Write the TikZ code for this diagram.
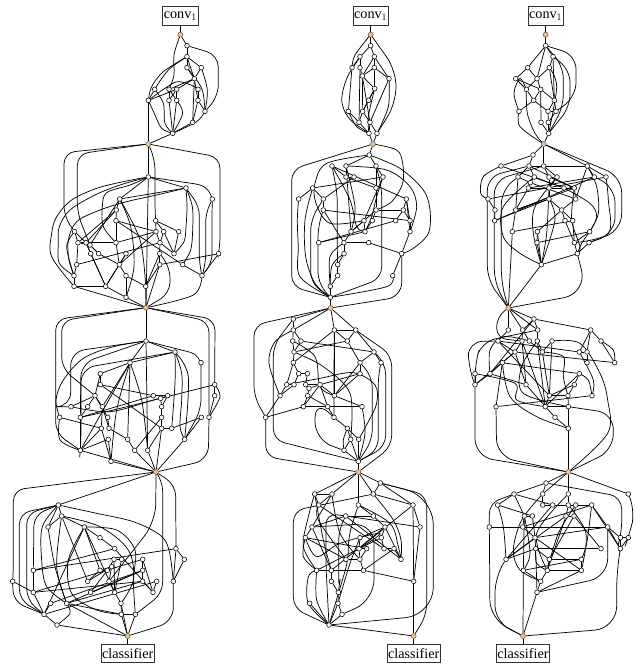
\documentclass[tikz,border=0pt]{standalone}
\usepackage{fontspec}
\setmainfont{Liberation Serif}
\definecolor{hubc}{HTML}{F2C27E}
\pgfdeclarelayer{wires}
\pgfsetlayers{wires,main}
\tikzset{
 wnode/.style={circle,draw=black,fill=white,line width=.55pt,inner sep=0pt,minimum size=4.7pt},
 hubnode/.style={circle,draw=black!70,fill=hubc,line width=.45pt,inner sep=0pt,minimum size=5pt},
 tbox/.style={draw=black!80,line width=.7pt,inner sep=1pt,minimum height=18.5pt,font=\fontsize{14.2}{15}\selectfont},
 wire/.style={line width=.72pt,black}
}
\newcommand\wn[1]{\foreach \n/\x/\y in {#1}{\node[wnode] (\n) at (\x,\y) {};}}
\newcommand\se[1]{\begin{pgfonlayer}{wires}\foreach \a/\b in {#1}{\draw[wire] (\a) -- (\b);}\end{pgfonlayer}}
\newcommand\cv[1]{\begin{pgfonlayer}{wires}\draw[wire] plot[smooth,tension=.55] coordinates {#1};\end{pgfonlayer}}
\newcommand\rv[2][11pt]{\begin{pgfonlayer}{wires}\draw[wire,rounded corners=#1] #2;\end{pgfonlayer}}
\begin{document}
\begin{tikzpicture}[x=.33333pt,y=-.33333pt]
\useasboundingbox (0,0) rectangle (1905,1992);
% ===== column 1
\begin{scope}
\node[tbox] (C1) at (541,48) {conv$_1$};
\node[hubnode] (H1) at (541,104) {};
\node[hubnode] (H2) at (445,432) {};
\node[hubnode] (H3) at (438,923) {};
\se{C1/H1}
\wn{a1/561/137,a2/561/170,a3/561/203,a4/604/203,a5/583/236,a6/464/268,a7/507/268,a8/530/268,a9/594/268,a10/445/301,a11/507/301,a12/530/301,a13/594/301,a14/615/334,a15/578/367,a16/518/400}
\se{H1/a1,a1/a2,a2/a3,a2/a4,a3/a5,a4/a5,a2/a5,a5/a7,a5/a8,a5/a13,a7/a11,a8/a12,a7/a12,a8/a11,a9/a13,a13/a14,a13/a15,a5/a15,a15/a16,a11/a16,a12/a16,a10/a8,a6/a10,a10/H2,a16/H2}
\cv{(H1) (522,165) (522,225) (a7)}
\rv[12pt]{(a1) -- (655,165) -- (655,290) -- (a14)}
\cv{(a2) (490,215) (455,260) (a10)}
\cv{(a2) (505,210) (a6)}
\cv{(a4) (622,270) (a14)}
\cv{(a3) (605,265) (a14)}
\cv{(a10) (465,345) (485,385) (a16)}
\cv{(a6) (490,310) (495,370) (a16)}
\cv{(a14) (590,365) (a16)}
\cv{(a12) (548,340) (a16)}
\cv{(a10) (495,265) (535,245) (590,265) (a13)}
\wn{b1/445/531,b2/558/564,b3/637/597,b4/359/597,b5/349/630,b6/348/662,b7/467/662,b8/224/695,b9/468/695,b10/491/695,b11/536/695,b12/234/728,b13/258/728,b14/270/735,b15/348/728,b16/480/728,b17/272/761,b18/296/761,b19/378/761,b20/522/761,b21/479/761,b22/656/761,b23/230/794,b24/358/794,b25/479/794,b26/548/794,b27/222/827,b28/378/827,b29/606/827,b30/222/859,b31/317/859,b32/437/859,b33/378/892}
\se{H2/b1,b1/H3,b1/b2,b1/b4,b2/b4,b4/b5,b5/b13,b4/b14,b5/b12,b6/b9,b6/b15,b7/b9,b7/b11,b7/b10,b8/b12,b8/b13,b12/b14,b13/b17,b12/b15,b15/b9,b15/b24,b14/b18,b18/b24,b24/b28,b28/b33,b24/b31,b17/b31,b13/b31,b23/b16,b25/b22,b30/b31,b30/H3,b27/b30,b23/b27,b31/b33,b31/b19,b32/H3,b33/H3,b25/H3,b32/b25,b32/b21,b21/b16,b16/b10,b16/b9,b25/b21,b20/b11,b20/b16,b10/b20,b28/b32,b26/b29,b6/b26,b29/b22,b19/b24,b12/b23,b24/b9,b5/b6}
\rv{(H2) -- (192,458) -- (192,650) -- (b8)}
\rv{(H2) -- (232,462) -- (232,640) -- (b14)}
\rv{(H2) -- (660,472) -- (660,740) -- (b22)}
\rv{(H2) -- (465,478) -- (465,640) -- (b7)}
\cv{(b1) (370,545) (290,565) (215,600) (170,650) (155,700) (155,770) (b30)}
\cv{(b1) (360,555) (285,585) (210,630) (178,680) (175,730) (178,790) (b27)}
\cv{(b2) (470,585) (380,605) (300,630) (230,665) (205,720) (207,780) (b27)}
\cv{(b2) (561,620) (558,680) (552,725) (b20)}
\cv{(b2) (577,620) (578,690) (572,750) (b26)}
\rv[9pt]{(b2) -- (598,620) -- (598,790) -- (b29)}
\cv{(b1) (540,545) (600,555) (625,572) (b3)}
\rv[9pt]{(b3) -- (617,640) -- (617,790) -- (b29)}
\rv[9pt]{(b3) -- (636,640) -- (636,790) -- (b29)}
\cv{(b1) (390,555) (320,578) (307,620) (310,680) (b15)}
\cv{(b4) (392,680) (402,800) (b33)}
\cv{(b4) (420,720) (b32)}
\rv{(b21) -- (510,800) -- (510,880) -- (H3)}
\cv{(b29) (580,885) (H3)}
\cv{(b8) (200,740) (b27)}
\end{scope}
\begin{scope}[shift={(0,900)}]
\node[hubnode] (H4) at (468,516) {};
\node[hubnode] (H5) at (383,1008) {};
\node[tbox] (C2) at (383,1060) {classifier};
\se{H5/C2}
\wn{c1/438/123,c2/525/156,c3/390/188,c4/603/188,c5/301/221,c6/301/254,c7/644/254,c8/285/287,c9/460/287,c10/503/287,c11/482/295,c12/644/287,c13/213/320,c14/263/320,c15/307/320,c16/485/320,c17/179/352,c18/241/352,c19/323/352,c20/485/352,c21/604/352,c22/627/352,c23/304/385,c24/327/385,c25/485/385,c26/515/385,c27/325/418,c28/383/418,c29/554/418,c30/241/451,c31/404/451,c32/443/451,c33/333/484}
\se{H3/c1,c1/c2,c1/c3,c2/c3,c3/c5,c5/c6,c5/c8,c6/c9,c6/c25,c8/c14,c8/c15,c8/c19,c13/c8,c14/c18,c15/c24,c15/c23,c17/c23,c18/c9,c18/c30,c19/c24,c23/c30,c23/c33,c24/c28,c27/c30,c27/c33,c28/c31,c31/H4,c32/H4,c33/H4,c30/H4,c3/c15,c3/c28,c1/c32,c9/c10,c16/c10,c16/c20,c20/c25,c25/H4,c25/c32,c26/c21,c29/H4,c29/c21,c16/c11,c20/c31,c7/c12,c12/c22,c7/c11,c11/c10,c3/c30,c25/c26}
\rv{(H3) -- (167,58) -- (167,400) -- (c30)}
\rv{(H3) -- (185,62) -- (185,205) -- (c8)}
\rv{(H3) -- (645,58) -- (c7)}
\rv{(H3) -- (627,64) -- (c22)}
\rv[14pt]{(c1) -- (212,155) -- (212,320) -- (c13)}
\cv{(c1) (340,140) (250,175) (190,240) (168,300) (c17)}
\rv[14pt]{(c1) -- (243,190) -- (c18)}
\rv[14pt]{(c2) -- (243,205) -- (243,430) -- (c30)}
\cv{(c2) (545,220) (545,300) (540,380) (c29)}
\cv{(c2) (525,250) (c26)}
\cv{(c2) (565,230) (c29)}
\rv{(c1) -- (603,165) -- (603,330) -- (c29)}
\cv{(c17) (180,420) (c30)}
\cv{(c3) (350,330) (c33)}
\cv{(c3) (425,300) (c32)}
\rv[14pt]{(c22) -- (625,480) -- (H4)}
\cv{(c7) (660,290) (c22)}
\cv{(c13) (330,335) (460,300) (c11)}
\cv{(c18) (340,330) (c11)}
\wn{d1/175/615,d2/185/648,d3/144/681,d4/253/681,d5/300/713,d6/344/746,d7/528/746,d8/342/778,d9/365/778,d10/428/778,d11/553/778,d12/100/811,d13/300/811,d14/322/811,d15/335/800,d16/428/811,d17/38/844,d18/263/844,d19/327/844,d20/428/844,d21/470/844,d22/520/844,d23/100/877,d24/272/877,d25/344/877,d26/459/877,d27/152/910,d28/200/910,d29/363/910,d30/132/943,d31/364/943,d32/406/943,d33/171/975}
\se{H4/d1,d1/d2,d1/d3,d2/d3,d2/d4,d2/d18,d4/d13,d4/d5,d4/d25,d5/d6,d7/d11,d7/d22,d11/d22,d12/d7,d12/d23,d17/d23,d23/d30,d23/d20,d23/d10,d27/d16,d27/d30,d28/d20,d28/d31,d28/H5,d30/d33,d33/H5,d31/H5,d32/H5,d29/H5,d24/d14,d24/d16,d25/d29,d26/d21,d26/d10,d16/d10,d16/d20,d20/d26,d8/d9,d8/d25,d9/d25,d13/d14,d18/d13,d19/d25,d14/d8,d30/d4,d6/d12,d15/d19,d15/d13,d29/d31,d31/d32,d28/d16,d30/d21,d18/d15,d6/d26}
\rv{(H4) -- (40,570) -- (40,820) -- (d17)}
\rv[18pt]{(H4) -- (467,665) -- (d19)}
\rv{(H4) -- (488,540) -- (488,880) -- (d32)}
\rv{(H4) -- (527,555) -- (d7)}
\cv{(d1) (290,640) (400,665) (480,705) (507,750) (d22)}
\rv{(d1) -- (58,640) -- (58,900) -- (d30)}
\rv{(d1) -- (80,640) -- (80,900) -- (d30)}
\rv{(d1) -- (102,645) -- (d12)}
\cv{(d1) (127,680) (125,780) (140,860) (d28)}
\cv{(d3) (165,800) (d28)}
\cv{(d2) (170,800) (d28)}
\cv{(d4) (350,690) (405,750) (400,840) (d32)}
\cv{(d4) (205,780) (215,880) (290,930) (d31)}
\cv{(d2) (300,680) (385,750) (400,840) (d29)}
\rv{(d17) -- (40,905) -- (d30)}
\rv[14pt]{(d22) -- (520,965) -- (H5)}
\cv{(d33) (210,940) (d28)}
\end{scope}
% ===== column 2
\begin{scope}[shift={(720,0)}]
\node[tbox] (C3) at (392,48) {conv$_1$};
\node[hubnode] (H6) at (392,104) {};
\node[hubnode] (H7) at (399,432) {};
\node[hubnode] (H8) at (272,924) {};
\se{C3/H6}
\wn{e1/392/137,e2/360/170,e3/403/170,e4/336/203,e5/360/203,e6/403/203,e7/367/228,e8/447/236,e9/404/266,e10/386/301,e11/325/334,e12/368/334,e13/357/367,e14/390/367,e15/387/400,e16/411/400}
\se{H6/e1,e1/e2,e1/e3,e2/e5,e2/e4,e3/e6,e3/e7,e5/e7,e4/e11,e6/e7,e6/e9,e7/e9,e7/e12,e7/e14,e8/e14,e9/e10,e10/e12,e12/e13,e12/e14,e13/e15,e14/e15,e14/e16,e11/e13,e15/H7,e16/H7,e3/e8,e9/e12,e6/e8,e5/e13}
\cv{(H6) (345,165) (e4)}
\rv[16pt]{(H6) -- (468,210) -- (468,310) -- (e16)}
\rv[16pt]{(e2) -- (305,255) -- (305,345) -- (e15)}
\cv{(e8) (445,320) (e16)}
\cv{(e11) (350,380) (e15)}
\cv{(e9) (385,350) (e15)}
\wn{f1/388/465,f2/276/498,f3/318/498,f4/408/498,f5/318/531,f6/342/531,f7/429/531,f8/218/564,f9/408/564,f10/176/597,f11/250/597,f12/499/597,f13/250/630,f14/408/630,f15/490/630,f16/372/662,f17/397/662,f18/467/662,f19/510/662,f20/333/695,f21/375/695,f22/510/695,f23/236/728,f24/312/728,f25/386/728,f26/312/761,f27/485/761,f28/293/794,f29/293/827,f30/458/827,f31/271/859,f32/271/892}
\se{H7/f1,f1/f3,f1/f4,f2/f5,f3/f5,f5/f6,f4/f7,f5/f9,f8/f7,f8/f10,f8/f11,f11/f13,f6/f11,f2/f12,f13/f19,f3/f20,f14/f16,f14/f17,f16/f20,f17/f21,f16/f21,f18/f23,f18/f15,f15/f12,f15/f19,f12/f19,f12/f22,f19/f22,f22/f27,f24/f25,f23/f21,f24/f20,f25/f27,f24/f26,f26/f28,f28/f29,f29/f31,f31/f32,f30/f27,f20/f16,f7/f16,f4/f14,f13/f24,f32/H8,f31/H8,f15/f14}
\rv{(H7) -- (155,508) -- (155,860) -- (f32)}
\cv{(H7) (470,450) (488,490) (488,550) (455,605) (f14)}
\cv{(f1) (480,505) (550,570) (570,630) (565,700) (520,745) (f27)}
\cv{(f1) (260,490) (225,550) (228,610) (270,670) (f16)}
\cv{(f3) (440,510) (510,560) (530,620) (f22)}
\rv{(f4) -- (425,560) -- (425,835) -- (f32)}
\cv{(f8) (195,660) (197,770) (225,850) (f32)}
\cv{(f10) (172,660) (175,740) (180,830) (f32)}
\rv{(f11) -- (212,660) -- (212,850) -- (f32)}
\rv{(f13) -- (234,680) -- (234,850) -- (f32)}
\rv{(f2) -- (292,580) -- (292,770) -- (f28)}
\cv{(f2) (330,600) (350,680) (f21)}
\cv{(f3) (345,620) (f20)}
\cv{(f7) (410,590) (395,650) (f21)}
\cv{(f24) (270,770) (f31)}
\cv{(f26) (275,800) (f32)}
\cv{(f30) (440,860) (f32)}
\rv[14pt]{(f27) -- (485,890) -- (H8)}
\end{scope}
\begin{scope}[shift={(720,900)}]
\node[hubnode] (H9) at (355,516) {};
\node[hubnode] (H10) at (521,1008) {};
\node[tbox] (C4) at (521,1060) {classifier};
\se{H10/C4}
\wn{g1/160/57,g2/160/90,g3/283/90,g4/347/90,g5/158/123,g6/183/123,g7/322/123,g8/162/156,g9/402/156,g10/160/188,g11/360/188,g12/423/188,g13/176/221,g14/202/221,g15/360/221,g16/140/254,g17/162/254,g18/197/254,g19/240/254,g20/207/265,g21/120/287,g22/203/287,g23/283/287,g24/190/320,g25/263/320,g26/366/320,g27/77/352,g28/282/352,g29/322/385,g30/332/418,g31/356/418,g32/312/451,g33/355/484}
\se{H8/g1,H8/g3,H8/g4,H8/g2,g1/g2,g2/g5,g2/g6,g5/g8,g6/g8,g8/g10,g10/g13,g10/g16,g13/g14,g13/g17,g14/g18,g16/g17,g16/g21,g17/g21,g18/g20,g19/g20,g20/g22,g22/g24,g24/g27,g21/g27,g24/g25,g22/g25,g19/g25,g3/g7,g3/g4,g4/g7,g7/g11,g4/g9,g9/g11,g9/g12,g11/g15,g15/g23,g11/g23,g6/g9,g8/g7,g3/g23,g25/g28,g28/g29,g29/g30,g30/g32,g31/g33,g32/g33,g30/g33,g33/H9,g29/g31,g19/g23,g10/g3,g23/g26,g25/g26,g19/g15,g24/g19,g18/g19}
\rv{(H8) -- (42,75) -- (42,290) -- (g27)}
\cv{(g2) (105,125) (87,190) (g21)}
\rv{(g1) -- (100,135) -- (100,420) -- (g33)}
\rv{(g27) -- (77,470) -- (H9)}
\rv{(g4) -- (455,165) -- (455,440) -- (H9)}
\rv{(g9) -- (437,190) -- (437,440) -- (g33)}
\rv{(g12) -- (415,220) -- (415,450) -- (g33)}
\rv{(g11) -- (397,230) -- (397,420) -- (g33)}
\cv{(g26) (375,400) (g33)}
\cv{(g16) (240,235) (340,218) (405,255) (410,310) (385,365) (g31)}
\cv{(g3) (282,230) (g28)}
\cv{(g5) (225,170) (240,260) (g23)}
\rv[18pt]{(g28) -- (225,300) -- (225,420) -- (g32)}
\cv{(g8) (250,200) (330,280) (g30)}
\cv{(g29) (310,420) (g32)}
\wn{i1/224/582,i2/276/582,i3/400/582,i4/421/549,i5/236/615,i6/355/615,i7/519/615,i8/317/648,i9/400/648,i10/216/681,i11/435/681,i12/540/681,i13/196/713,i14/360/713,i15/424/713,i16/357/746,i17/380/746,i18/432/746,i19/462/746,i20/318/778,i21/360/778,i22/483/778,i23/230/811,i24/274/811,i25/370/811,i26/274/844,i27/521/844,i28/295/877,i29/209/910,i30/294/910,i31/306/943,i32/267/975}
\se{H9/i1,H9/i2,H9/i4,H9/i6,H9/i3,i3/i4,i1/i5,i1/i2,i2/i5,i4/i7,i3/i7,i6/i9,i7/i12,i5/i18,i8/i12,i2/i10,i8/i10,i10/i13,i13/i17,i10/i24,i14/i16,i16/i17,i16/i21,i17/i21,i15/i16,i11/i15,i15/i18,i18/i19,i19/i22,i11/i22,i21/i25,i25/i27,i7/i16,i23/i16,i23/i24,i24/i26,i26/i28,i28/i30,i30/i31,i31/i32,i30/i32,i29/i32,i12/i27,i27/H10,i32/H10,i8/i9,i9/i11,i13/i20,i20/i21,i24/i25,i24/i11,i25/i19,i14/i11,i8/i22,i7/i27}
\rv{(i3) -- (160,632) -- (160,925) -- (i32)}
\rv{(i4) -- (560,585) -- (560,945) -- (H10)}
\rv[28pt]{(i4) -- (580,590) -- (580,945) -- (i32)}
\cv{(i1) (205,650) (190,740) (i23)}
\cv{(i1) (250,720) (i24)}
\cv{(i5) (235,660) (i20)}
\cv{(i2) (300,700) (i21)}
\rv{(i6) -- (325,710) -- (325,780) -- (i32)}
\rv{(i8) -- (258,640) -- (258,800) -- (i32)}
\rv{(i8) -- (296,690) -- (296,870) -- (i28)}
\rv[20pt]{(i10) -- (402,670) -- (402,900) -- (i31)}
\cv{(i3) (460,660) (483,720) (i22)}
\cv{(i6) (450,670) (475,740) (i22)}
\cv{(i13) (190,770) (i23)}
\cv{(i23) (205,830) (205,910) (i32)}
\cv{(i23) (230,900) (i32)}
\cv{(i13) (230,770) (300,730) (420,700) (i16)}
\cv{(i14) (330,790) (i30)}
\end{scope}
% ===== column 3
\begin{scope}[shift={(1320,0)}]
\node[tbox] (C5) at (317,48) {conv$_1$};
\node[hubnode] (H11) at (317,104) {};
\node[hubnode] (H12) at (311,432) {};
\node[hubnode] (H13) at (205,924) {};
\se{C5/H11}
\wn{j1/317/137,j2/339/170,j3/263/203,j4/328/203,j5/227/236,j6/291/236,j7/259/268,j8/302/268,j9/281/301,j10/343/301,j11/237/334,j12/324/334,j13/348/334,j14/303/367,j15/325/367,j16/326/400}
\se{H11/j1,j1/j2,j1/j3,j3/j5,j3/j6,j1/j6,j4/j6,j2/j4,j4/j10,j2/j10,j6/j7,j6/j8,j5/j7,j7/j9,j8/j9,j8/j10,j9/j11,j9/j12,j10/j12,j10/j13,j12/j15,j13/j15,j8/j14,j14/j16,j15/j16,j12/j13,j5/j8,j16/H12}
\rv[14pt]{(j1) -- (408,165) -- (408,290) -- (j13)}
\rv[12pt]{(j2) -- (390,210) -- (390,320) -- (j16)}
\rv[12pt]{(j1) -- (370,200) -- (370,320) -- (j16)}
\cv{(j4) (350,260) (j16)}
\cv{(j7) (240,235) (222,280) (j11)}
\cv{(j11) (240,380) (H12)}
\cv{(j7) (262,340) (285,400) (H12)}
\wn{k1/279/465,k2/183/498,k3/267/498,k4/311/498,k5/442/498,k6/234/531,k7/283/531,k8/327/531,k9/351/531,k10/463/531,k11/498/531,k12/271/548,k13/265/564,k14/327/564,k15/372/564,k16/403/564,k17/144/597,k18/327/597,k19/407/597,k20/165/630,k21/227/630,k22/365/630,k23/164/662,k24/375/662,k25/398/662,k26/217/695,k27/292/695,k28/449/695,k29/291/728,k30/403/728,k31/447/728,k32/412/761,k33/304/794}
\se{H12/k1,H12/k4,H12/k5,k1/k2,k1/k3,k3/k4,k4/k5,k3/k6,k3/k7,k4/k8,k4/k9,k7/k12,k6/k12,k8/k14,k9/k14,k5/k10,k5/k11,k10/k13,k2/k15,k12/k13,k13/k14,k14/k15,k15/k16,k14/k18,k16/k19,k17/k11,k17/k20,k20/k23,k23/k18,k21/k18,k21/k16,k18/k22,k22/k24,k22/k25,k19/k22,k23/k10,k26/k21,k26/k25,k27/k22,k29/k28,k24/k30,k25/k30,k28/k30,k30/k32,k31/k32,k32/k33,k27/k29,k29/k33,k27/k33,k33/H13,k5/k19,k6/k21,k12/k19,k13/k21,k16/k8,k3/k16,k14/k9,k14/k16,k7/k15}
\rv[16pt]{(H12) -- (545,530) -- (545,690) -- (k31)}
\cv{(k2) (130,530) (122,580) (k17)}
\rv[14pt]{(k3) -- (142,530) -- (142,840) -- (H13)}
\rv[14pt]{(k4) -- (163,540) -- (163,850) -- (H13)}
\rv[14pt]{(k6) -- (184,570) -- (184,850) -- (H13)}
\rv[16pt]{(k10) -- (525,560) -- (525,700) -- (k31)}
\cv{(k11) (505,600) (505,700) (k30)}
\cv{(k5) (470,560) (475,640) (k28)}
\cv{(k7) (190,620) (190,710) (240,760) (k33)}
\se{k26/H13}
\rv[24pt]{(k32) -- (442,880) -- (H13)}
\cv{(k9) (285,620) (280,700) (k33)}
\cv{(k14) (320,700) (k33)}
\cv{(k18) (345,660) (k33)}
\cv{(k16) (395,660) (420,740) (k32)}
\cv{(k15) (450,610) (470,650) (k28)}
\cv{(k28) (425,730) (k32)}
\end{scope}
\begin{scope}[shift={(1320,900)}]
\node[hubnode] (H14) at (385,516) {};
\node[hubnode] (H15) at (249,1008) {};
\node[tbox] (C6) at (249,1060) {classifier};
\se{H15/C6}
\wn{l1/282/57,l2/205/90,l3/248/90,l4/293/90,l5/452/90,l6/174/123,l7/246/123,l8/268/123,l9/292/123,l10/336/123,l11/483/123,l12/225/156,l13/307/156,l14/418/156,l15/441/156,l16/187/188,l17/441/188,l18/524/188,l19/105/221,l20/150/221,l21/418/221,l22/105/254,l23/258/254,l24/403/254,l25/328/287,l26/384/287,l27/456/287,l28/168/320,l29/316/320,l30/385/320,l31/345/352,l32/385/385}
\se{H13/l1,H13/l2,H13/l3,H13/l4,l1/l3,l1/l4,l1/l5,l3/l7,l4/l9,l3/l8,l2/l6,l7/l12,l6/l12,l8/l13,l9/l13,l10/l13,l10/l25,l5/l14,l5/l15,l5/l11,l14/l15,l15/l17,l11/l18,l12/l23,l7/l23,l12/l16,l16/l20,l16/l21,l20/l22,l19/l22,l20/l23,l13/l25,l21/l24,l24/l26,l26/l30,l25/l29,l25/l26,l29/l31,l30/l32,l31/l32,l28/l27,l22/l12,l28/l16,l29/l23,l24/l25,l6/l25,l6/l14,l9/l29,l7/l29,l32/H14,l18/l12,l21/l29,l1/l20,l30/l29}
\rv[10pt]{(H13) -- (170,50) -- (170,115) -- (l7)}
\cv{(l11) (520,150) (l18)}
\rv[14pt]{(l6) -- (85,125) -- (85,200) -- (l22)}
\rv[14pt]{(l4) -- (125,125) -- (105,190) -- (l22)}
\cv{(l8) (190,110) (150,150) (l20)}
\rv[18pt]{(l22) -- (105,470) -- (H14)}
\rv[18pt]{(l28) -- (170,470) -- (H14)}
\cv{(l10) (420,130) (480,220) (503,300) (503,400) (H14)}
\rv[16pt]{(l30) -- (520,340) -- (520,450) -- (H14)}
\cv{(l16) (210,290) (290,350) (l32)}
\cv{(l19) (225,250) (230,300) (l29)}
\cv{(l13) (370,170) (370,230) (l26)}
\cv{(l14) (460,240) (l27)}
\cv{(l21) (445,240) (l27)}
\cv{(l9) (245,200) (250,280) (l30)}
\wn{m1/318/549,m2/222/582,m3/308/582,m4/385/582,m5/565/582,m6/173/615,m7/308/615,m8/338/615,m9/385/615,m10/407/615,m11/455/615,m12/253/648,m13/277/648,m14/378/648,m15/402/648,m16/148/681,m17/248/681,m18/503/681,m19/285/713,m20/541/713,m21/565/713,m22/287/746,m23/483/746,m24/541/746,m25/198/778,m26/328/778,m27/424/778,m28/250/811,m29/322/811,m30/424/811,m31/302/844,m32/291/877}
\se{H14/m1,H14/m4,H14/m5,H14/m3,m1/m2,m1/m3,m3/m7,m4/m9,m2/m8,m2/m6,m2/m12,m6/m13,m7/m8,m8/m9,m9/m10,m9/m14,m10/m15,m14/m15,m11/m18,m10/m11,m12/m13,m12/m17,m16/m18,m17/m19,m19/m22,m19/m18,m17/m11,m13/m19,m18/m20,m18/m24,m20/m24,m21/m24,m23/m15,m22/m23,m19/m30,m22/m26,m26/m29,m26/m27,m27/m30,m29/m30,m25/m22,m25/m19,m25/m14,m28/m27,m28/m31,m29/m31,m31/m32,m22/m32,m32/m30,m32/H15,m28/H15,m14/m29,m15/m26,m8/m25,m12/m28,m20/m21,m11/m24}
\rv[14pt]{(m5) -- (585,630) -- (570,700) -- (m21)}
\rv[12pt]{(m1) -- (545,590) -- (545,700) -- (m20)}
\rv[10pt]{(m2) -- (148,610) -- (m16)}
\cv{(m6) (190,680) (m25)}
\rv[16pt]{(m25) -- (165,830) -- (165,965) -- (H15)}
\rv[22pt]{(m24) -- (530,800) -- (530,985) -- (H15)}
\rv[18pt]{(m18) -- (503,830) -- (m32)}
\rv[18pt]{(m16) -- (150,955) -- (H15)}
\cv{(m11) (440,730) (m27)}
\cv{(m9) (438,700) (m30)}
\cv{(m3) (245,660) (220,750) (240,810) (m31)}
\cv{(m10) (355,700) (m29)}
\cv{(m4) (290,700) (m29)}
\cv{(m12) (270,760) (m28)}
\cv{(m22) (290,790) (m29)}
\end{scope}
\end{tikzpicture}
\end{document}
